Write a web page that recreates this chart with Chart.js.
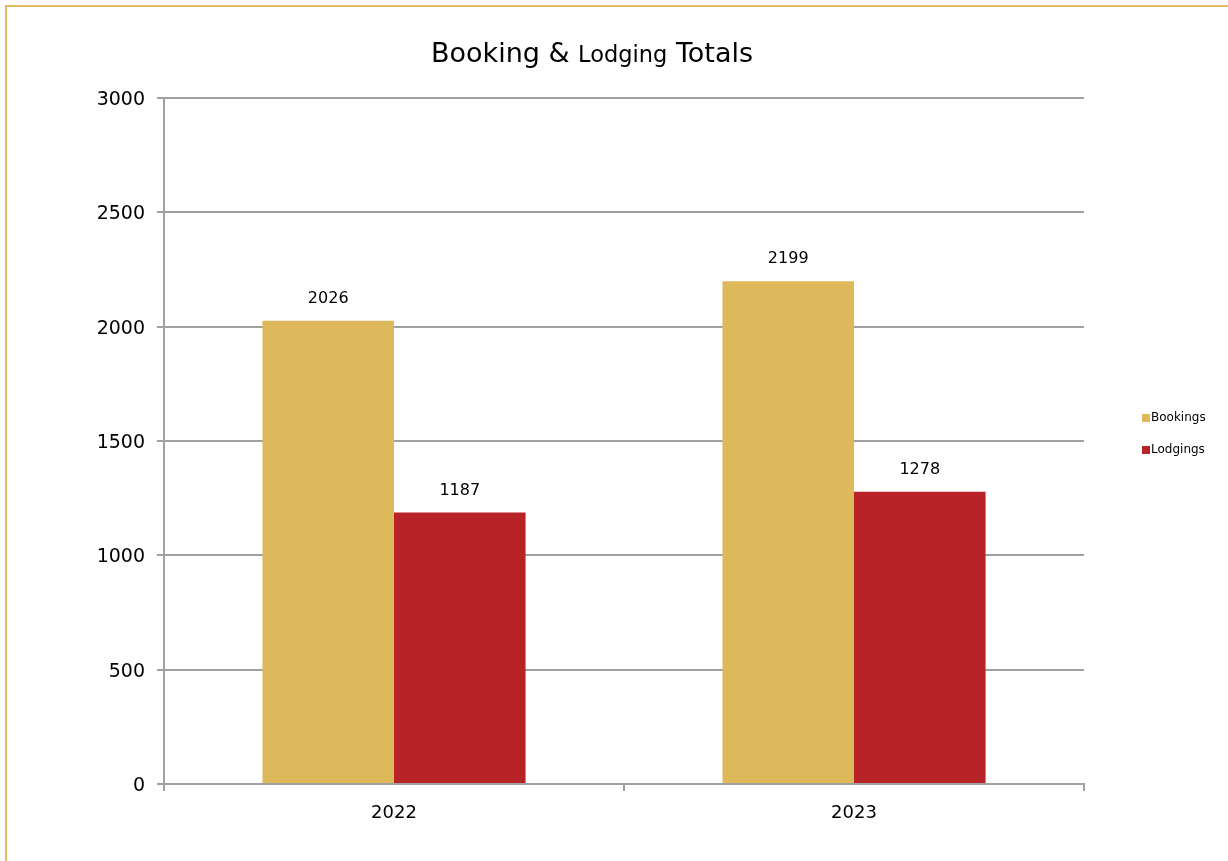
<!DOCTYPE html>
<html>
<head>
<meta charset="utf-8">
<script src="https://cdn.jsdelivr.net/npm/chart.js@4"></script>
<style>
  html, body { margin: 0; padding: 0; background: #fff; overflow: hidden; }
  #wrap { position: relative; width: 1228px; height: 861px; }
  #frame { position: absolute; left: 5px; top: 5px; width: 1300px; height: 900px;
           border: 2px solid #e2bd62; pointer-events: none; box-sizing: border-box; }
  canvas { position: absolute; left: 0; top: 0; }
</style>
</head>
<body>
<div id="wrap">
  <canvas id="c" width="1228" height="861"></canvas>
  <div id="frame"></div>
</div>
<script>
const categories = ['2022', '2023'];
const bookings = [2026, 2199];
const lodgings = [1187, 1278];
const seriesNames = ['Bookings', 'Lodgings'];
const titleParts = [['Booking & ', 27], ['Lodging', 22.5], [' Totals', 27]];

const FONT = '"DejaVu Sans", Tahoma, Verdana, sans-serif';
const GRID = '#a0a0a0';

const titlePlugin = {
  id: 'mixedTitle',
  afterDraw(chart) {
    const ctx = chart.ctx;
    ctx.save();
    ctx.fillStyle = '#000';
    ctx.textBaseline = 'alphabetic';
    let total = 0;
    titleParts.forEach(([t, s]) => { ctx.font = s + 'px ' + FONT; total += ctx.measureText(t).width; });
    let x = 592 - total / 2;
    titleParts.forEach(([t, s]) => {
      ctx.font = s + 'px ' + FONT;
      ctx.textAlign = 'left';
      ctx.fillText(t, x, 62);
      x += ctx.measureText(t).width;
    });
    ctx.restore();
  }
};

const valueLabels = {
  id: 'valueLabels',
  afterDatasetsDraw(chart) {
    const ctx = chart.ctx;
    ctx.save();
    ctx.font = '16px ' + FONT;
    ctx.fillStyle = '#000';
    ctx.textAlign = 'center';
    ctx.textBaseline = 'middle';
    chart.data.datasets.forEach((ds, i) => {
      chart.getDatasetMeta(i).data.forEach((bar, j) => {
        ctx.fillText(String(ds.data[j]), bar.x, bar.y - 22);
      });
    });
    ctx.restore();
  }
};

const sideLegend = {
  id: 'sideLegend',
  afterDraw(chart) {
    const ctx = chart.ctx;
    ctx.save();
    ctx.font = '12px ' + FONT;
    ctx.textAlign = 'left';
    ctx.textBaseline = 'middle';
    chart.data.datasets.forEach((ds, i) => {
      const y = 418 + i * 32;
      ctx.fillStyle = ds.backgroundColor;
      ctx.fillRect(1142, y - 4, 8, 8);
      ctx.fillStyle = '#000';
      ctx.fillText(ds.label, 1151, y);
    });
    ctx.restore();
  }
};

new Chart(document.getElementById('c'), {
  type: 'bar',
  data: {
    labels: categories,
    datasets: [
      { label: seriesNames[0], data: bookings, backgroundColor: '#ddb95c', borderWidth: 0 },
      { label: seriesNames[1], data: lodgings, backgroundColor: '#b72327', borderWidth: 0 }
    ]
  },
  options: {
    responsive: false,
    animation: false,
    layout: { padding: { top: 98, right: 144, bottom: 0, left: 0 } },
    datasets: { bar: { categoryPercentage: 0.572, barPercentage: 1.0 } },
    plugins: {
      legend: { display: false },
      title: { display: false },
      tooltip: { enabled: false }
    },
    scales: {
      x: {
        afterFit(scale) { scale.height = 77; },
        grid: { display: true, drawOnChartArea: false, drawTicks: true, tickLength: 7,
                color: GRID, lineWidth: 2, offset: true },
        border: { display: true, color: GRID, width: 2 },
        ticks: { color: '#000', font: { family: FONT, size: 18 }, padding: 12 }
      },
      y: {
        min: 0, max: 3000,
        afterFit(scale) { scale.width = 164; },
        grid: { display: true, drawTicks: true, tickLength: 7, color: GRID, lineWidth: 2 },
        border: { display: true, color: GRID, width: 2 },
        ticks: { stepSize: 500, color: '#000', font: { family: FONT, size: 19 }, padding: 12,
                 labelOffset: 2, callback: (v) => String(v) }
      }
    }
  },
  plugins: [titlePlugin, valueLabels, sideLegend]
});
</script>
</body>
</html>
